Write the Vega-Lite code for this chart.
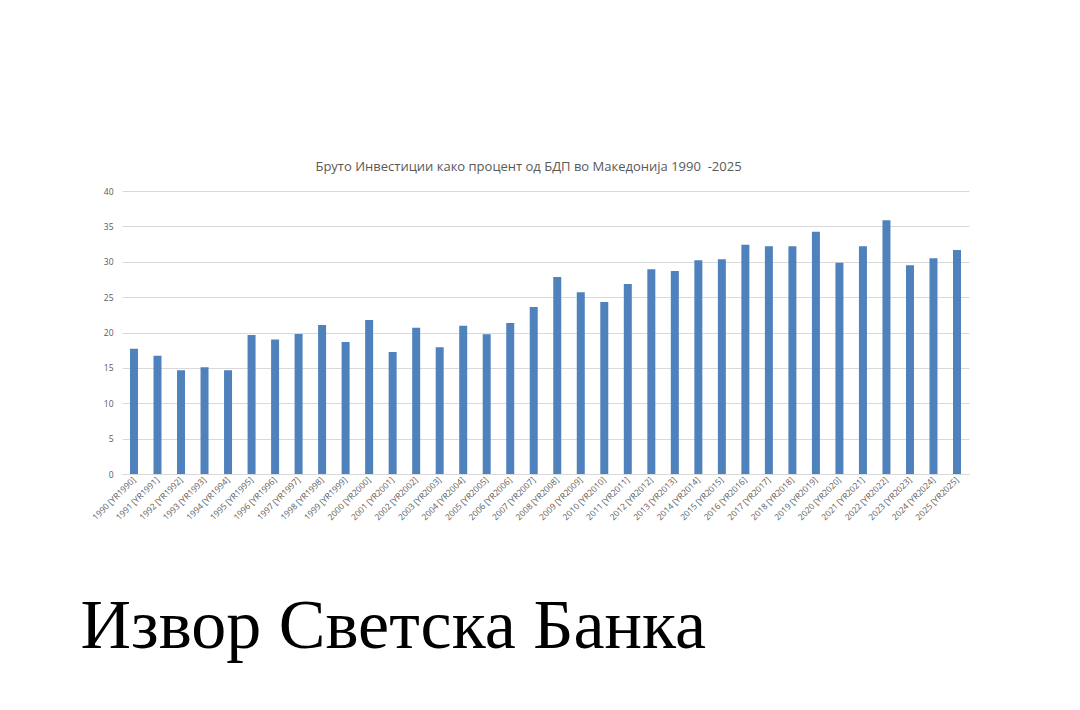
{
  "$schema": "https://vega.github.io/schema/vega-lite/v6.json",
  "autosize": {"type": "none"},
  "width": 847,
  "height": 283,
  "padding": {"left": 122, "top": 191, "right": 111, "bottom": 236},
  "background": "white",
  "title": {
    "text": "Бруто Инвестиции како процент од БДП во Македонија 1990\u00a0 -2025",
    "font": "Open Sans",
    "fontSize": 13,
    "fontWeight": "normal",
    "color": "#595959",
    "offset": 13,
    "dx": -17
  },
  "data": {
    "values": [
      {"label": "1990 [YR1990]", "value": 17.7},
      {"label": "1991 [YR1991]", "value": 16.7},
      {"label": "1992 [YR1992]", "value": 14.65},
      {"label": "1993 [YR1993]", "value": 15.1},
      {"label": "1994 [YR1994]", "value": 14.65},
      {"label": "1995 [YR1995]", "value": 19.65},
      {"label": "1996 [YR1996]", "value": 19.0},
      {"label": "1997 [YR1997]", "value": 19.8},
      {"label": "1998 [YR1998]", "value": 21.06},
      {"label": "1999 [YR1999]", "value": 18.66},
      {"label": "2000 [YR2000]", "value": 21.77},
      {"label": "2001 [YR2001]", "value": 17.24},
      {"label": "2002 [YR2002]", "value": 20.68},
      {"label": "2003 [YR2003]", "value": 17.9},
      {"label": "2004 [YR2004]", "value": 20.96},
      {"label": "2005 [YR2005]", "value": 19.74},
      {"label": "2006 [YR2006]", "value": 21.34},
      {"label": "2007 [YR2007]", "value": 23.6},
      {"label": "2008 [YR2008]", "value": 27.84},
      {"label": "2009 [YR2009]", "value": 25.68},
      {"label": "2010 [YR2010]", "value": 24.3},
      {"label": "2011 [YR2011]", "value": 26.85},
      {"label": "2012 [YR2012]", "value": 28.93},
      {"label": "2013 [YR2013]", "value": 28.7},
      {"label": "2014 [YR2014]", "value": 30.2},
      {"label": "2015 [YR2015]", "value": 30.35},
      {"label": "2016 [YR2016]", "value": 32.4},
      {"label": "2017 [YR2017]", "value": 32.2},
      {"label": "2018 [YR2018]", "value": 32.2},
      {"label": "2019 [YR2019]", "value": 34.25},
      {"label": "2020 [YR2020]", "value": 29.87},
      {"label": "2021 [YR2021]", "value": 32.2},
      {"label": "2022 [YR2022]", "value": 35.86},
      {"label": "2023 [YR2023]", "value": 29.5},
      {"label": "2024 [YR2024]", "value": 30.5},
      {"label": "2025 [YR2025]", "value": 31.66}
    ]
  },
  "mark": {"type": "bar", "color": "#4F81BD"},
  "encoding": {
    "x": {
      "field": "label",
      "type": "nominal",
      "sort": null,
      "scale": {"paddingInner": 0.66, "paddingOuter": 0.34},
      "axis": {
        "title": "Извор Светска Банка",
        "titleFont": "Liberation Serif",
        "titleFontSize": 70,
        "titleFontWeight": "normal",
        "titleColor": "#000000",
        "titleAlign": "left",
        "titleBaseline": "alphabetic",
        "titleX": -42,
        "titleY": 173,
        "labelAngle": -45,
        "labelAlign": "right",
        "labelBaseline": "middle",
        "labelFont": "Open Sans",
        "labelFontSize": 8.5,
        "labelColor": "#595959",
        "labelPadding": 4,
        "ticks": false,
        "domainColor": "#d9d9d9",
        "grid": false
      }
    },
    "y": {
      "field": "value",
      "type": "quantitative",
      "scale": {"domain": [0, 40], "nice": false},
      "axis": {
        "title": null,
        "values": [0, 5, 10, 15, 20, 25, 30, 35, 40],
        "labelFont": "Open Sans",
        "labelFontSize": 8.5,
        "labelColor": "#595959",
        "labelPadding": 9,
        "ticks": false,
        "domain": false,
        "gridColor": "#d9d9d9"
      }
    }
  },
  "config": {"view": {"stroke": null}}
}
